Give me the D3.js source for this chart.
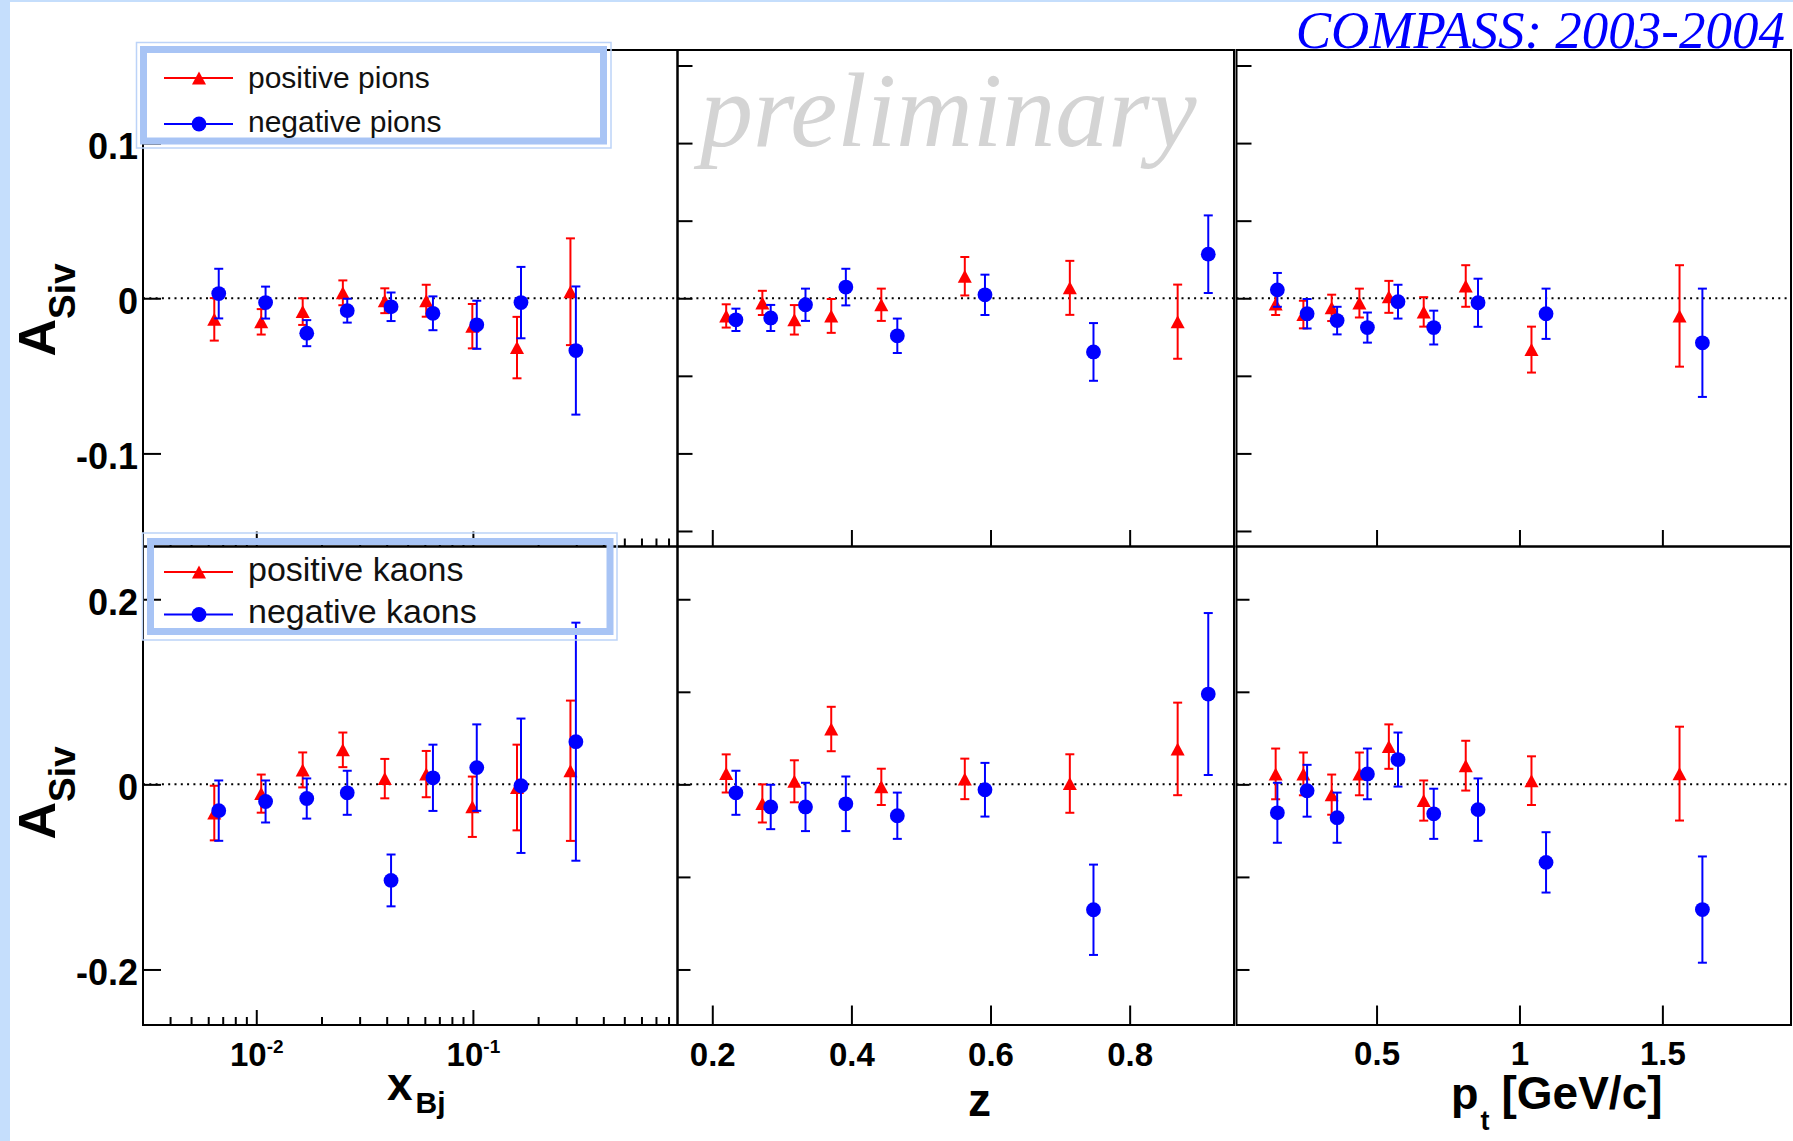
<!DOCTYPE html>
<html>
<head>
<meta charset="utf-8">
<script src="https://cdn.jsdelivr.net/npm/d3@7"></script>
<style>
  html, body { margin: 0; padding: 0; background: #fff; }
  svg { display: block; }
</style>
</head>
<body>
<svg id="chart" width="1793" height="1141"></svg>
<script>
// ---- bin centres (positive / negative hadrons are drawn slightly shifted) ----
const xBjPlus  = [0.0064, 0.01054, 0.01638, 0.0251, 0.0392, 0.0609, 0.0994, 0.1598, 0.282];
const xBjMinus = [0.00671, 0.01104, 0.0171, 0.0263, 0.0419, 0.0654, 0.1042, 0.1667, 0.2988];
const zPlus    = [0.220, 0.272, 0.318, 0.371, 0.443, 0.563, 0.714, 0.869];
const zMinus   = [0.234, 0.284, 0.334, 0.392, 0.466, 0.592, 0.748, 0.913];
const ptPlus   = [0.147, 0.244, 0.343, 0.440, 0.543, 0.665, 0.812, 1.042, 1.560];
const ptMinus  = [0.153, 0.257, 0.362, 0.468, 0.575, 0.700, 0.855, 1.093, 1.640];

// ---- Sivers asymmetry [value, statistical error] ----
const pionPlusXbj  = [[-0.0136,0.0137],[-0.0152,0.0082],[-0.0086,0.0086],[0.0035,0.0080],[-0.0016,0.0080],[-0.0016,0.0103],[-0.0180,0.0143],[-0.0318,0.0198],[0.0042,0.0344]];
const pionMinusXbj = [[0.0030,0.0160],[-0.0028,0.0103],[-0.0225,0.0084],[-0.0080,0.0077],[-0.0055,0.0092],[-0.0097,0.0109],[-0.0171,0.0155],[-0.0028,0.0230],[-0.0337,0.0413]];
const pionPlusZ    = [[-0.0114,0.0075],[-0.0030,0.0078],[-0.0139,0.0095],[-0.0114,0.0109],[-0.0042,0.0104],[0.0142,0.0124],[0.0067,0.0174],[-0.0151,0.0239]];
const pionMinusZ   = [[-0.0139,0.0072],[-0.0127,0.0084],[-0.0042,0.0104],[0.0072,0.0118],[-0.0242,0.0111],[0.0022,0.0130],[-0.0346,0.0186],[0.0284,0.0250]];
const pionPlusPt   = [[-0.0037,0.0071],[-0.0105,0.0089],[-0.0062,0.0085],[-0.0031,0.0093],[0.0009,0.0103],[-0.0088,0.0095],[0.0079,0.0134],[-0.0331,0.0148],[-0.0114,0.0327]];
const pionMinusPt  = [[0.0054,0.0109],[-0.0100,0.0095],[-0.0144,0.0089],[-0.0189,0.0097],[-0.0022,0.0109],[-0.0189,0.0109],[-0.0029,0.0155],[-0.0100,0.0162],[-0.0287,0.0349]];

const kaonPlusXbj  = [[-0.0310,0.0295],[-0.0100,0.0206],[0.0156,0.0189],[0.0373,0.0187],[0.0062,0.0213],[0.0111,0.0250],[-0.0242,0.0326],[-0.0034,0.0463],[0.0147,0.0758]];
const kaonMinusXbj = [[-0.0284,0.0326],[-0.0185,0.0227],[-0.0153,0.0217],[-0.0091,0.0238],[-0.1038,0.0280],[0.0071,0.0358],[0.0181,0.0467],[-0.0015,0.0726],[0.0461,0.1286]];
const kaonPlusZ    = [[0.0118,0.0206],[-0.0206,0.0206],[0.0033,0.0227],[0.0598,0.0240],[-0.0027,0.0196],[0.0059,0.0219],[0.0009,0.0316],[0.0383,0.0500]];
const kaonMinusZ   = [[-0.0091,0.0238],[-0.0244,0.0240],[-0.0244,0.0261],[-0.0210,0.0295],[-0.0339,0.0250],[-0.0058,0.0290],[-0.1355,0.0488],[0.0976,0.0875]];
const kaonPlusPt   = [[0.0113,0.0274],[0.0113,0.0231],[-0.0111,0.0217],[0.0113,0.0231],[0.0408,0.0240],[-0.0175,0.0217],[0.0202,0.0269],[0.0040,0.0263],[0.0116,0.0507]];
const kaonMinusPt  = [[-0.0307,0.0324],[-0.0069,0.0280],[-0.0360,0.0271],[0.0113,0.0274],[0.0268,0.0292],[-0.0318,0.0271],[-0.0273,0.0337],[-0.0843,0.0326],[-0.1353,0.0574]];

// ---- axis ticks and labels ----
const xBjMajor = [0.01, 0.1];
const xBjMinor = [0.004,0.005,0.006,0.007,0.008,0.009,0.02,0.03,0.04,0.05,0.06,0.07,0.08,0.09,0.2,0.3,0.4,0.5,0.6,0.7,0.8];
const xBjLabels = [["10","-2"],["10","-1"]];
const zTicks  = [0.2, 0.4, 0.6, 0.8];
const ptTicks = [0.5, 1, 1.5];
const pionYTicks = [-0.15,-0.1,-0.05,0,0.05,0.1,0.15];
const pionYLabels = [-0.1, 0, 0.1];
const kaonYTicks = [-0.2,-0.1,0,0.1,0.2];
const kaonYLabels = [-0.2, 0, 0.2];

const legendPions = ["positive pions", "negative pions"];
const legendKaons = ["positive kaons", "negative kaons"];

const RED = "#ff0000", BLUE = "#0000ff";
const SANS = "'Liberation Sans', Arial, Helvetica, sans-serif";
const SERIF = "'Liberation Serif', 'Times New Roman', serif";

const svg = d3.select("#chart");
svg.append("rect").attr("width", 1793).attr("height", 1141).attr("fill", "#fff");
svg.append("rect").attr("x", 0).attr("y", 0).attr("width", 10).attr("height", 1141).attr("fill", "#c5defc");
svg.append("rect").attr("x", 0).attr("y", 0).attr("width", 1793).attr("height", 2).attr("fill", "#c5defc");

// ---- pad geometry ----
const cols = [{x0: 143, x1: 677.5}, {x0: 677.5, x1: 1234}, {x0: 1236.5, x1: 1791}];
const rows = [{y0: 50, y1: 546.5}, {y0: 546.5, y1: 1025}];

const xScales = [
  d3.scaleLog().domain([0.003, 0.88]).range([cols[0].x0, cols[0].x1]),
  d3.scaleLinear().domain([0.15, 0.95]).range([cols[1].x0, cols[1].x1]),
  d3.scaleLinear().domain([0.01, 1.95]).range([cols[2].x0, cols[2].x1])
];
const yScales = [
  d3.scaleLinear().domain([-0.16, 0.16]).range([rows[0].y1, rows[0].y0]),
  d3.scaleLinear().domain([-0.26, 0.257]).range([rows[1].y1, rows[1].y0])
];

const xBins = [[xBjPlus, xBjMinus], [zPlus, zMinus], [ptPlus, ptMinus]];
const series = [
  [[pionPlusXbj, pionMinusXbj], [pionPlusZ, pionMinusZ], [pionPlusPt, pionMinusPt]],
  [[kaonPlusXbj, kaonMinusXbj], [kaonPlusZ, kaonMinusZ], [kaonPlusPt, kaonMinusPt]]
];

function stripDomain(g) { g.select(".domain").remove(); }
function tickStyle(g) { g.selectAll(".tick line").attr("stroke", "#000").attr("stroke-width", 2); }

const triangle = (s) => `M0,${-s} L${s*1.08},${s} L${-s*1.08},${s} Z`;

rows.forEach((row, r) => {
  const y = yScales[r];
  cols.forEach((col, c) => {
    const x = xScales[c];
    const pad = svg.append("g").attr("class", `pad r${r} c${c}`);

    // zero reference line
    pad.append("line")
      .attr("x1", col.x0).attr("x2", col.x1)
      .attr("y1", y(0)).attr("y2", y(0))
      .attr("stroke", "#000").attr("stroke-width", 2)
      .attr("stroke-dasharray", "2,4.3");

    // y ticks on the left edge of each pad
    const yTickVals = c === 0 ? (r === 0 ? pionYLabels : kaonYLabels) : (r === 0 ? pionYTicks : kaonYTicks);
    const yLen = c === 0 ? 18 : (r === 0 ? 15 : 13);
    pad.append("g")
      .attr("transform", `translate(${col.x0},0)`)
      .call(d3.axisRight(y).tickValues(yTickVals).tickSize(yLen).tickFormat(""))
      .call(stripDomain).call(tickStyle);

    // x ticks on the bottom edge of each pad
    const xg = pad.append("g").attr("transform", `translate(0,${row.y1})`);
    if (c === 0) {
      xg.append("g").call(d3.axisTop(x).tickValues(xBjMajor).tickSize(15).tickFormat(""))
        .call(stripDomain).call(tickStyle);
      xg.append("g").call(d3.axisTop(x).tickValues(xBjMinor).tickSize(8).tickFormat(""))
        .call(stripDomain).call(tickStyle);
    } else {
      const vals = c === 1 ? zTicks : ptTicks;
      const len = r === 0 ? 16.5 : 19.5;
      xg.append("g").call(d3.axisTop(x).tickValues(vals).tickSize(len).tickFormat(""))
        .call(stripDomain).call(tickStyle);
    }

    // frame
    pad.append("rect")
      .attr("x", col.x0).attr("y", row.y0)
      .attr("width", col.x1 - col.x0).attr("height", row.y1 - row.y0)
      .attr("fill", "none").attr("stroke", "#000").attr("stroke-width", 2);

    // data points with error bars
    const cap = 4.5;
    [0, 1].forEach(k => {
      const xs = xBins[c][k];
      const pts = series[r][c][k].map((d, i) => ({x: xs[i], v: d[0], e: d[1]}));
      const color = k === 0 ? RED : BLUE;
      const g = pad.append("g").attr("stroke", color).attr("fill", color);
      const bars = g.selectAll("g.pt").data(pts).join("g").attr("class", "pt");
      bars.append("line")
        .attr("x1", d => x(d.x)).attr("x2", d => x(d.x))
        .attr("y1", d => y(d.v + d.e)).attr("y2", d => y(d.v - d.e))
        .attr("stroke-width", 2);
      bars.append("line")
        .attr("x1", d => x(d.x) - cap).attr("x2", d => x(d.x) + cap)
        .attr("y1", d => y(d.v + d.e)).attr("y2", d => y(d.v + d.e))
        .attr("stroke-width", 2);
      bars.append("line")
        .attr("x1", d => x(d.x) - cap).attr("x2", d => x(d.x) + cap)
        .attr("y1", d => y(d.v - d.e)).attr("y2", d => y(d.v - d.e))
        .attr("stroke-width", 2);
      if (k === 0) {
        bars.append("path")
          .attr("transform", d => `translate(${x(d.x)},${y(d.v)})`)
          .attr("d", triangle(6.5)).attr("stroke", "none");
      } else {
        bars.append("circle")
          .attr("cx", d => x(d.x)).attr("cy", d => y(d.v))
          .attr("r", 7.4).attr("stroke", "none");
      }
    });
  });

  // y tick labels on the first pad
  const labels = r === 0 ? pionYLabels : kaonYLabels;
  svg.append("g")
    .attr("transform", `translate(${cols[0].x0},0)`)
    .call(d3.axisLeft(y).tickValues(labels).tickSize(0).tickPadding(5)
      .tickFormat(d => d === 0 ? "0" : String(d)))
    .call(stripDomain)
    .call(g => g.selectAll("text")
      .attr("dy", "0.42em")
      .attr("font-family", SANS).attr("font-weight", "bold")
      .attr("font-size", 36).attr("fill", "#000"));

  // y title A_Siv
  const ty = r === 0 ? 310 : 793;
  const t = svg.append("text")
    .attr("transform", `translate(55,${ty}) rotate(-90)`)
    .attr("text-anchor", "middle")
    .attr("font-family", SANS).attr("font-weight", "bold").attr("fill", "#000");
  t.append("tspan").attr("font-size", 52).text("A");
  t.append("tspan").attr("font-size", 37).attr("dy", 20).text("Siv");
});

// ---- x tick labels under the lower pads ----
const labelFont = g => g.selectAll("text")
  .attr("font-family", SANS).attr("font-weight", "bold")
  .attr("font-size", 33).attr("fill", "#000");

svg.append("g")
  .attr("transform", `translate(0,${rows[1].y1})`)
  .call(d3.axisBottom(xScales[0]).tickValues(xBjMajor).tickSize(0).tickPadding(18).tickFormat(() => ""))
  .call(stripDomain).call(labelFont)
  .call(g => g.selectAll(".tick text").each(function(d, i) {
    const el = d3.select(this);
    el.append("tspan").text(xBjLabels[i][0]);
    el.append("tspan").attr("font-size", 19).attr("dy", -13).text(xBjLabels[i][1]);
  }));

svg.append("g")
  .attr("transform", `translate(0,${rows[1].y1})`)
  .call(d3.axisBottom(xScales[1]).tickValues(zTicks).tickSize(0).tickPadding(18).tickFormat(d3.format(".1f")))
  .call(stripDomain).call(labelFont);

svg.append("g")
  .attr("transform", `translate(0,${rows[1].y1})`)
  .call(d3.axisBottom(xScales[2]).tickValues(ptTicks).tickSize(0).tickPadding(17).tickFormat(d => String(d)))
  .call(stripDomain).call(labelFont);

// ---- x titles ----
const xt1 = svg.append("text").attr("x", 387).attr("y", 1100)
  .attr("font-family", SANS).attr("font-weight", "bold").attr("fill", "#000");
xt1.append("tspan").attr("font-size", 46).text("x");
xt1.append("tspan").attr("font-size", 30).attr("dy", 13).attr("dx", 3).text("Bj");

svg.append("text").attr("x", 968).attr("y", 1116)
  .attr("font-family", SANS).attr("font-weight", "bold").attr("font-size", 46)
  .attr("fill", "#000").text("z");

const xt3 = svg.append("text").attr("x", 1451).attr("y", 1109)
  .attr("font-family", SANS).attr("font-weight", "bold").attr("fill", "#000");
xt3.append("tspan").attr("font-size", 45).text("p");
xt3.append("tspan").attr("font-size", 27).attr("dy", 21).attr("dx", 2).text("t");
xt3.append("tspan").attr("font-size", 46).attr("dy", -21).attr("dx", 12).text("[GeV/c]");

// ---- watermark and experiment label ----
svg.append("text").attr("x", 700).attr("y", 146)
  .attr("font-family", SERIF).attr("font-style", "italic").attr("font-size", 106)
  .attr("fill", "#d4d4d4").text("preliminary");

svg.append("text").attr("x", 1785).attr("y", 48)
  .attr("text-anchor", "end")
  .attr("font-family", SERIF).attr("font-style", "italic").attr("font-size", 53)
  .attr("fill", BLUE).text("COMPASS: 2003-2004");

// ---- legends ----
function legend(box, band, entries, rowsY, baseY, fontSize) {
  const g = svg.append("g");
  g.append("rect").attr("x", box[0]).attr("y", box[1]).attr("width", box[2]).attr("height", box[3])
    .attr("fill", "none").attr("stroke", "#bcd3f8").attr("stroke-width", 1.5);
  g.append("rect").attr("x", band[0]).attr("y", band[1]).attr("width", band[2]).attr("height", band[3])
    .attr("fill", "none").attr("stroke", "#a8c4f5").attr("stroke-width", 7);
  entries.forEach((label, i) => {
    const color = i === 0 ? RED : BLUE;
    const yy = rowsY[i];
    g.append("line").attr("x1", 164).attr("x2", 233).attr("y1", yy).attr("y2", yy)
      .attr("stroke", color).attr("stroke-width", 2);
    if (i === 0) {
      g.append("path").attr("transform", `translate(199,${yy})`).attr("d", triangle(6.5)).attr("fill", color);
    } else {
      g.append("circle").attr("cx", 199).attr("cy", yy).attr("r", 7.4).attr("fill", color);
    }
    g.append("text").attr("x", 248).attr("y", baseY[i])
      .attr("font-family", SANS).attr("font-size", fontSize).attr("fill", "#111").text(label);
  });
}
legend([136.5, 42.5, 474.5, 105.5], [143.5, 49.5, 460, 91.5], legendPions, [78, 124], [88, 131.5], 30);
legend([142.5, 533, 474.5, 107], [150.5, 541.5, 459.5, 90], legendKaons, [572, 614.5], [581, 622.5], 34);
</script>
</body>
</html>
